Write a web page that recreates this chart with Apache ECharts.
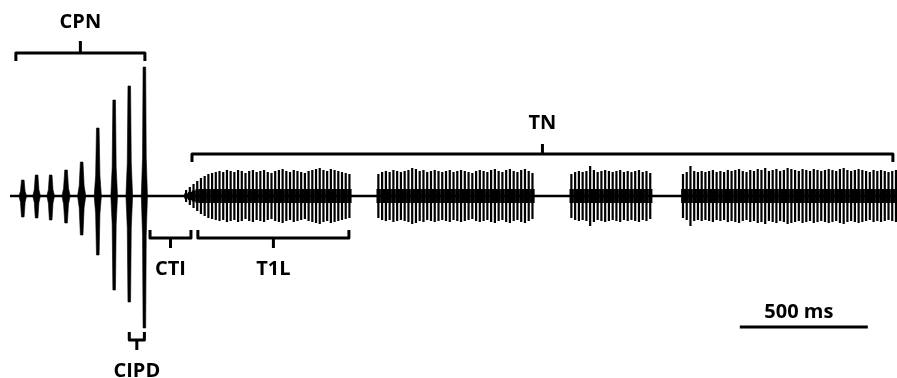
<!DOCTYPE html>
<html>
<head>
<meta charset="utf-8">
<script src="https://cdn.jsdelivr.net/npm/echarts@6/dist/echarts.min.js"></script>
<style>html,body{margin:0;padding:0;background:#fff;}#c{width:897px;height:378px;}</style>
</head>
<body>
<div id="c"></div>
<script>
// ---- data (time in ms, amplitude in arbitrary units) ----
const chirpTimes = [89, 143, 198, 258, 319, 382, 446, 505, 564];
const chirpUp    = [16, 21, 21, 26, 34, 68, 96, 110, 129];
const chirpDown  = [21, 22, 24, 27, 39, 59, 94, 106, 132];
const chirpDur   = [30, 30, 30, 32, 32, 28, 26, 26, 24];

const trainStart = [727, 1478, 2232, 2668];
const trainEnd   = [1365, 2080, 2540, 3500];
const train1Amp = [6,9,12,15,18,20,22,23,24,25,24,26,25,24,26,25,23,25,26,24,25,26,24,23,25,26,27,25,24,26,25,24,23,25,26,27,28,26,25,27,26,25,24,23,22];
const train2Amp = [22,24,25,24,26,25,24,25,26,28,27,25,26,24,25,26,25,24,25,26,24,25,26,25,24,23,25,26,25,24,26,27,25,24,26,27,25,24,26,27,25,23];
const train3Amp = [22,24,25,24,25,30,26,24,25,26,25,24,25,26,24,25,24,25,26,24,25,23];
const train4Amp = [22,24,30,25,24,25,24,25,26,24,25,24,26,25,26,27,25,24,26,25,27,26,28,25,26,27,25,26,28,27,26,25,27,26,25,27,26,25,26,27,26,25,27,28,26,25,26,27,26,25,24,26,25,26,25,24,25,26];
const trainAmps = [train1Amp, train2Amp, train3Amp, train4Amp];

const recordStart = 39, recordEnd = 3504;

// bracketed intervals [start ms, end ms]
const bracketLabels = ['CPN', 'TN', 'CTI', 'T1L', 'CIPD'];
const bracketSpans  = [[62, 566], [750, 3488], [586, 746], [773, 1363], [505, 564]];
const scaleBarMs = 500;
const scaleBarLabel = '500 ms';

// ---- layout (not data) ----
const bracketLayout = {
  CPN:  {y: 143,  dir: 'up'},
  TN:   {y: 42,   dir: 'up'},
  CTI:  {y: -42,  dir: 'down'},
  T1L:  {y: -42,  dir: 'down'},
  CIPD: {y: -144, dir: 'down'}
};
const FONT = {fontFamily: 'Open Sans', fontWeight: 'bold', fontSize: 20, fill: '#000'};

const pulses = [];
trainAmps.forEach((amps, k) => {
  const p = (trainEnd[k] - trainStart[k]) / (amps.length - 1);
  amps.forEach((a, i) => pulses.push([trainStart[k] + i * p, a, p]));
});
const chirps = chirpTimes.map((t, i) => [t, chirpUp[i], chirpDown[i], chirpDur[i]]);
const brackets = bracketLabels.map((l, i) => [bracketSpans[i][0], bracketSpans[i][1], i]);

const chart = echarts.init(document.getElementById('c'), null, {renderer: 'canvas'});
chart.setOption({
  animation: false,
  grid: {left: 0, right: 0, top: 0, bottom: 0},
  xAxis: {type: 'value', min: 0, max: 3504, show: false},
  yAxis: {type: 'value', min: -182, max: 196, show: false},
  series: [
    {
      type: 'line', data: [[recordStart, 0], [recordEnd, 0]], symbol: 'none',
      lineStyle: {color: '#000', width: 2.5}, silent: true
    },
    {
      type: 'custom', data: chirps, silent: true, clip: false,
      renderItem: (params, api) => {
        const t = api.value(0), up = api.value(1), dn = api.value(2), d = api.value(3);
        const c = api.coord([t, 0]);
        const top = api.coord([t, up])[1], bot = api.coord([t, -dn])[1];
        const hw = api.size([d / 2, 0])[0];
        const x = c[0], y = c[1];
        const tw = 1.3;
        const pts = [
          [x - hw, y], [x - hw * 0.6, y - (y - top) * 0.3], [x - tw, top - 0], [x + tw, top],
          [x + hw * 0.6, y - (y - top) * 0.3], [x + hw, y],
          [x + hw * 0.6, y + (bot - y) * 0.3], [x + tw, bot], [x - tw, bot],
          [x - hw * 0.6, y + (bot - y) * 0.3]
        ];
        return {type: 'polygon', shape: {points: pts}, style: {fill: '#000', stroke: '#000', lineWidth: 0.6}};
      }
    },
    {
      type: 'custom', data: pulses, silent: true, clip: false,
      renderItem: (params, api) => {
        const t = api.value(0), a = api.value(1), p = api.value(2);
        const top = api.coord([t, a]), bot = api.coord([t, -a]);
        const bw = api.size([p, 0])[0];
        const bh = Math.min(7, a * 0.45);
        const b1 = api.coord([t, bh])[1], b2 = api.coord([t, -bh])[1];
        return {type: 'group', children: [
          {type: 'line', shape: {x1: top[0], y1: top[1], x2: bot[0], y2: bot[1]}, style: {stroke: '#000', lineWidth: 2.2}},
          {type: 'rect', shape: {x: top[0] - bw / 2, y: b1, width: bw + 0.3, height: b2 - b1}, style: {fill: '#000'}}
        ]};
      }
    },
    {
      type: 'custom', data: brackets, silent: true, clip: false,
      renderItem: (params, api) => {
        const s = api.value(0), e = api.value(1), idx = api.value(2);
        const label = bracketLabels[idx];
        const L = bracketLayout[label];
        const p1 = api.coord([s, L.y]), p2 = api.coord([e, L.y]);
        const y = p1[1];
        const sgn = L.dir === 'up' ? 1 : -1;
        const endLen = 8, tickLen = label === 'CPN' ? 12 : 10;
        const xc = (p1[0] + p2[0]) / 2;
        const stroke = {stroke: '#000', lineWidth: 3, lineJoin: 'round', lineCap: 'butt', fill: null};
        return {type: 'group', children: [
          {type: 'polyline', shape: {points: [[p1[0], y + sgn * endLen], [p1[0], y], [p2[0], y], [p2[0], y + sgn * endLen]]}, style: stroke},
          {type: 'line', shape: {x1: xc, y1: y, x2: xc, y2: y - sgn * tickLen}, style: stroke},
          {type: 'text', x: xc, y: y - sgn * 31, style: Object.assign({text: label, align: 'center', verticalAlign: 'middle'}, FONT)}
        ]};
      }
    },
    {
      type: 'custom', data: [[2890, scaleBarMs]], silent: true, clip: false,
      renderItem: (params, api) => {
        const s = api.value(0), d = api.value(1);
        const p1 = api.coord([s, -131]), p2 = api.coord([s + d, -131]);
        return {type: 'group', children: [
          {type: 'line', shape: {x1: p1[0], y1: p1[1], x2: p2[0], y2: p2[1]}, style: {stroke: '#000', lineWidth: 3}},
          {type: 'text', x: (p1[0] + p2[0]) / 2 - 5, y: p1[1] - 15, style: Object.assign({text: scaleBarLabel, align: 'center', verticalAlign: 'middle'}, FONT)}
        ]};
      }
    }
  ]
});
</script>
</body>
</html>
